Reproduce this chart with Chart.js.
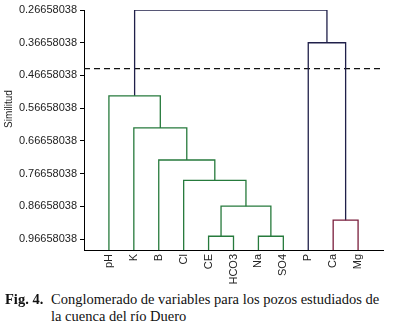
<!DOCTYPE html>
<html>
<head>
<meta charset="utf-8">
<script src="https://cdn.jsdelivr.net/npm/chart.js@4.4.0/dist/chart.umd.min.js"></script>
<style>
  html, body { margin: 0; padding: 0; background: #fff; }
  #wrap { position: relative; width: 394px; height: 328px; overflow: hidden; }
  #box { position: absolute; left: 0; top: 0; width: 394px; height: 290px; }
  #ytitle {
    position: absolute; left: 8px; top: 109px;
    transform: translate(-50%, -50%) rotate(-90deg);
    font: 10px "Liberation Sans", Arial, sans-serif; color: #222; white-space: nowrap;
  }
  #caption {
    position: absolute; left: 5px; top: 291px; width: 389px;
    font: 14.5px "Liberation Serif", "Times New Roman", serif; color: #111; line-height: 17px;
    white-space: nowrap;
  }
  #caption b { position: absolute; left: 0; top: 0; }
  #caption div { margin-left: 46px; }
</style>
</head>
<body>
<div id="wrap">
  <div id="box"><canvas id="chart" width="394" height="290"></canvas></div>
  <div id="ytitle">Similitud</div>
  <div id="caption"><b>Fig. 4.</b><div>Conglomerado de variables para los pozos estudiados de<br>la cuenca del río Duero</div></div>
</div>
<script>
const leafLabels = ['pH', 'K', 'B', 'Cl', 'CE', 'HCO3', 'Na', 'SO4', 'P', 'Ca', 'Mg'];
// linkage: node ids 0..10 are leaves, merge k creates node 11 + k
const mergeA = [4, 6, 11, 3, 2, 1, 0, 9, 8, 17];
const mergeB = [5, 7, 12, 13, 14, 15, 16, 10, 18, 19];
const mergeHeight = [0.958, 0.958, 0.866, 0.787, 0.725, 0.627, 0.529, 0.909, 0.3666, 0.26658038];
const leafLevel = 1.0;
const cutLevel = 0.446;
const yTickLabels = ['0.26658038', '0.36658038', '0.46658038', '0.56658038',
                     '0.66658038', '0.76658038', '0.86658038', '0.96658038'];

const green = '#267a3c', navy = '#20204a', maroon = '#7a1e3c';
function linkColor(k) {
    if (k === 7) return maroon;
    if (k >= 8) return navy;
    return green;
}

// node positions
const nodeX = leafLabels.map((l, i) => i + 1);
const nodeH = leafLabels.map(() => leafLevel);
const datasets = [];
mergeHeight.forEach((h, k) => {
    const a = mergeA[k], b = mergeB[k];
    nodeX.push((nodeX[a] + nodeX[b]) / 2);
    nodeH.push(h);
    datasets.push({
        data: [
            { x: nodeX[a], y: nodeH[a] },
            { x: nodeX[a], y: h },
            { x: nodeX[b], y: h },
            { x: nodeX[b], y: nodeH[b] }
        ],
        borderColor: linkColor(k),
        borderWidth: 1.3
    });
});
datasets.push({
    data: [{ x: 0, y: cutLevel }, { x: leafLabels.length + 1, y: cutLevel }],
    borderColor: '#111',
    borderWidth: 1.2,
    borderDash: [6, 4]
});

const config = {
    type: 'scatter',
    data: { datasets: datasets },
    options: {
        responsive: false,
        animation: false,
        devicePixelRatio: 1,
        showLine: true,
        elements: { point: { radius: 0 }, line: { tension: 0, fill: false } },
        layout: { padding: { top: 10, right: 11, left: 0, bottom: 0 } },
        plugins: { legend: { display: false }, tooltip: { enabled: false } },
        scales: {
            x: {
                type: 'linear',
                min: 0,
                max: leafLabels.length + 1,
                afterBuildTicks: s => { s.ticks = leafLabels.map((l, i) => ({ value: i + 1 })); },
                afterFit: s => { s.height = 40; },
                grid: { display: false, drawTicks: false, tickLength: 0 },
                border: { color: '#000', width: 1 },
                ticks: {
                    autoSkip: false, minRotation: 90, maxRotation: 90, padding: 4,
                    color: '#222', font: { family: '"Liberation Sans", Arial, sans-serif', size: 11 },
                    callback: (v) => leafLabels[v - 1]
                }
            },
            y: {
                type: 'linear',
                reverse: true,
                min: 0.26658038,
                max: 1.0,
                afterBuildTicks: s => { s.ticks = yTickLabels.map(t => ({ value: parseFloat(t) })); },
                afterFit: s => { s.width = 84; },
                grid: { drawOnChartArea: false, drawTicks: true, tickLength: 4, color: '#000' },
                border: { color: '#000', width: 1 },
                ticks: {
                    padding: 3, color: '#222',
                    font: { family: '"Liberation Sans", Arial, sans-serif', size: 11 },
                    callback: (v, i) => yTickLabels[i]
                }
            }
        }
    }
};

var chart = new Chart(document.getElementById('chart'), config);
</script>
</body>
</html>
